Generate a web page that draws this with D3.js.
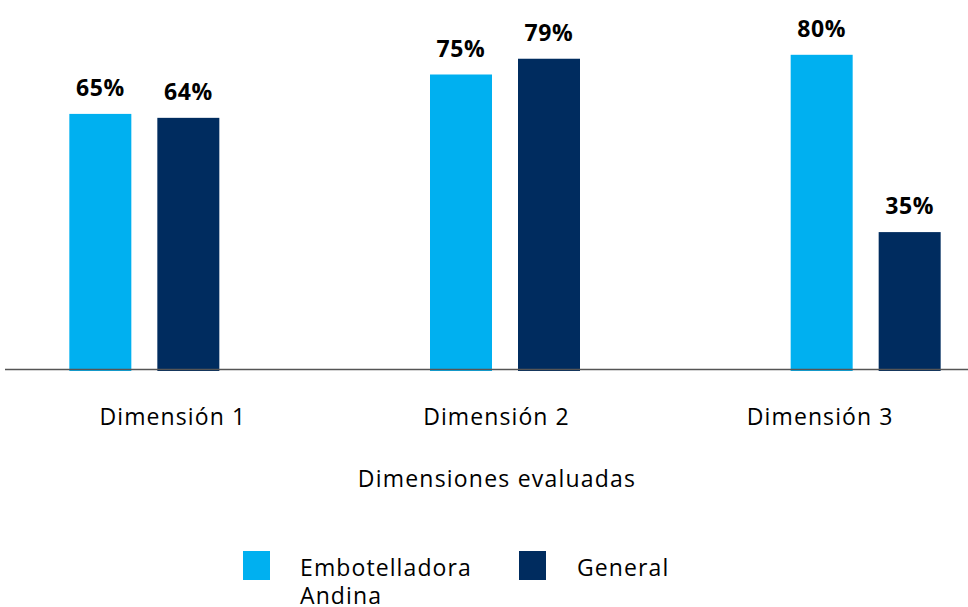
<!DOCTYPE html>
<html>
<head>
<meta charset="utf-8">
<script src="https://cdn.jsdelivr.net/npm/d3@7"></script>
<style>
  html, body { margin: 0; padding: 0; background: #fff; }
  svg { display: block; }
  text { font-family: "Open Sans", "Noto Sans", sans-serif; }
</style>
</head>
<body>
<svg id="chart" width="968" height="607"></svg>
<script>
const categories = ["Dimensión 1", "Dimensión 2", "Dimensión 3"];
const seriesNames = ["Embotelladora Andina", "General"];
const embotelladora = [65, 75, 80];
const general = [64, 79, 35];
const axisTitle = "Dimensiones evaluadas";

const colors = ["#00B0F0", "#002C5F"];
const svg = d3.select("#chart");
const baseY = 370;

const y = d3.scaleLinear().domain([0, 100]).range([baseY, baseY - 394]);
const xBars = d3.scaleBand().domain(categories).range([-36, 1046]);
const xLabels = d3.scaleBand().domain(categories).range([11, 982]);

const data = categories.map((c, i) => ({ cat: c, vals: [embotelladora[i], general[i]] }));

// bars
const groups = svg.append("g").selectAll("g").data(data).join("g")
  .attr("transform", d => `translate(${xBars(d.cat) + xBars.bandwidth() / 2},0)`);

const bw = 62;
const offs = [-44, 44];
groups.selectAll("rect").data(d => d.vals.map((v, j) => ({ v, j }))).join("rect")
  .attr("x", d => offs[d.j] - bw / 2)
  .attr("width", bw)
  .attr("y", d => y(d.v))
  .attr("height", d => baseY + 1 - y(d.v))
  .attr("fill", d => colors[d.j]);

groups.selectAll("text").data(d => d.vals.map((v, j) => ({ v, j }))).join("text")
  .attr("x", d => offs[d.j])
  .attr("y", d => y(d.v) - 18)
  .attr("text-anchor", "middle")
  .attr("font-size", 23)
  .attr("font-weight", 700)
  .attr("letter-spacing", 0.6)
  .attr("fill", "#000")
  .text(d => d.v + "%");

// baseline
svg.append("line")
  .attr("x1", 5).attr("x2", 968)
  .attr("y1", baseY - 0.5).attr("y2", baseY - 0.5)
  .attr("stroke", "#555").attr("stroke-width", 1.5);

// x axis labels
const axis = d3.axisBottom(xLabels).tickSize(0).tickPadding(0);
const ag = svg.append("g").attr("transform", `translate(0,${baseY})`).call(axis);
ag.select(".domain").remove();
ag.selectAll("text")
  .attr("y", 0).attr("dy", 55)
  .attr("font-size", 23)
  .attr("letter-spacing", 1.1)
  .attr("fill", "#000")
  .style("font-family", '"Open Sans", "Noto Sans", sans-serif');

// axis title
svg.append("text")
  .attr("x", 497).attr("y", 487)
  .attr("text-anchor", "middle")
  .attr("font-size", 23)
  .attr("letter-spacing", 1.2)
  .attr("fill", "#000")
  .text(axisTitle);

// legend
const legend = [
  { name: seriesNames[0], color: colors[0], sx: 243, tx: 300, lines: ["Embotelladora", "Andina"] },
  { name: seriesNames[1], color: colors[1], sx: 519, tx: 577, lines: ["General"] }
];
const lg = svg.append("g").selectAll("g").data(legend).join("g");
lg.append("rect")
  .attr("x", d => d.sx).attr("y", 551)
  .attr("width", 27).attr("height", 29)
  .attr("fill", d => d.color);
lg.append("text")
  .attr("x", d => d.tx).attr("y", 576)
  .attr("font-size", 23)
  .attr("letter-spacing", 1.1)
  .attr("fill", "#000")
  .selectAll("tspan").data(d => d.lines.map(l => ({ l, tx: d.tx }))).join("tspan")
  .attr("x", d => d.tx)
  .attr("dy", (d, i) => i === 0 ? 0 : 28)
  .text(d => d.l);
</script>
</body>
</html>
